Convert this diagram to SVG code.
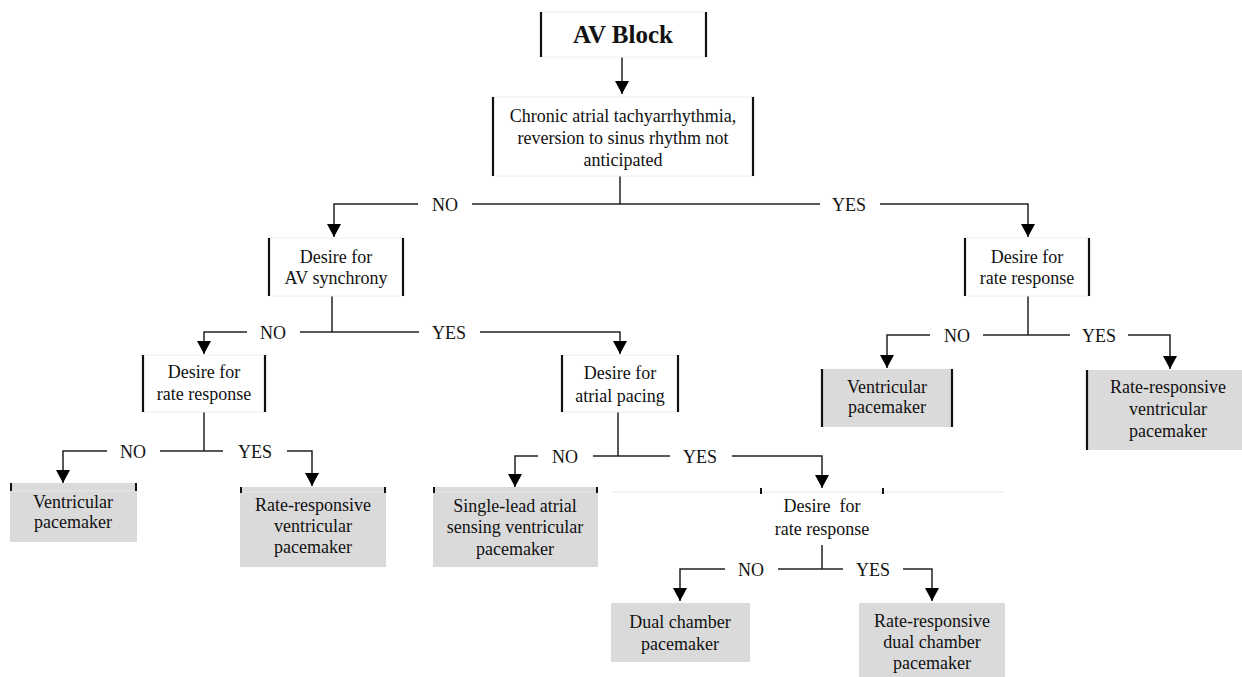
<svg xmlns="http://www.w3.org/2000/svg" width="1242" height="677" viewBox="0 0 1242 677">
<defs>
<style>
text{font-family:"Liberation Serif","Times New Roman",serif;font-size:18px;fill:#111;text-anchor:middle}
.title{font-weight:bold;font-size:25px}
.wbox{fill:#fff;stroke:#eee;stroke-width:1}
.gbox{fill:#dadada;stroke:none}
.bar{stroke:#111;stroke-width:2.2}
.tick{stroke:#111;stroke-width:2}
.faint{stroke:#e6e6e6;stroke-width:1}
.c{fill:none;stroke:#222;stroke-width:1.5}
.a{fill:none;stroke:#222;stroke-width:1.5;marker-end:url(#ah)}
</style>
<marker id="ah" viewBox="0 0 13 14" refX="13" refY="7" markerWidth="13" markerHeight="14" markerUnits="userSpaceOnUse" orient="auto">
<path d="M0,0 L13,7 L0,14 z" fill="#000"/>
</marker>
</defs>

<g id="connectors">
<line class="a" x1="622" y1="57" x2="622" y2="94"/>
<!-- level 1 -->
<line class="c" x1="620" y1="176" x2="620" y2="204"/>
<polyline class="a" points="418,204 334,204 334,237"/>
<line class="c" x1="472" y1="204" x2="820" y2="204"/>
<polyline class="a" points="880,204 1028,204 1028,237"/>
<text x="445" y="211">NO</text>
<text x="849" y="211">YES</text>
<!-- AV synchrony -->
<line class="c" x1="332" y1="296" x2="332" y2="332"/>
<polyline class="a" points="247,332 204,332 204,354"/>
<line class="c" x1="300" y1="332" x2="419" y2="332"/>
<polyline class="a" points="480,332 620,332 620,354"/>
<text x="273" y="339">NO</text>
<text x="449" y="339">YES</text>
<!-- left rate response -->
<line class="c" x1="204" y1="412" x2="204" y2="451"/>
<polyline class="a" points="107,451 63,451 63,483"/>
<line class="c" x1="160" y1="451" x2="223" y2="451"/>
<polyline class="a" points="287,451 312,451 312,486"/>
<text x="133" y="458">NO</text>
<text x="255" y="458">YES</text>
<!-- atrial pacing -->
<line class="c" x1="618" y1="412" x2="618" y2="456"/>
<polyline class="a" points="538,456 515,456 515,487"/>
<line class="c" x1="593" y1="456" x2="670" y2="456"/>
<polyline class="a" points="732,456 822,456 822,488"/>
<text x="565" y="463">NO</text>
<text x="700" y="463">YES</text>
<!-- center rate response -->
<line class="c" x1="822" y1="545" x2="822" y2="569"/>
<polyline class="a" points="725,569 680,569 680,601"/>
<line class="c" x1="778" y1="569" x2="843" y2="569"/>
<polyline class="a" points="903,569 932,569 932,601"/>
<text x="751" y="576">NO</text>
<text x="873" y="576">YES</text>
<!-- right rate response -->
<line class="c" x1="1028" y1="296" x2="1028" y2="335"/>
<polyline class="a" points="930,335 887,335 887,368"/>
<line class="c" x1="983" y1="335" x2="1070" y2="335"/>
<polyline class="a" points="1128,335 1170,335 1170,369"/>
<text x="957" y="342">NO</text>
<text x="1099" y="342">YES</text>
</g>

<g id="av-block">
<rect class="wbox" x="541" y="12" width="165" height="45"/>
<line class="bar" x1="541" y1="12" x2="541" y2="57"/>
<line class="bar" x1="706" y1="12" x2="706" y2="57"/>
<text class="title" x="623" y="43">AV Block</text>
</g>

<g id="chronic">
<rect class="wbox" x="493" y="97" width="260" height="79"/>
<line class="bar" x1="493" y1="97" x2="493" y2="176"/>
<line class="bar" x1="753" y1="97" x2="753" y2="176"/>
<text x="623" y="122">Chronic atrial tachyarrhythmia,</text>
<text x="623" y="144">reversion to sinus rhythm not</text>
<text x="623" y="166">anticipated</text>
</g>

<g id="av-synchrony">
<rect class="wbox" x="269" y="238" width="134" height="58"/>
<line class="bar" x1="269" y1="238" x2="269" y2="296"/>
<line class="bar" x1="403" y1="238" x2="403" y2="296"/>
<text x="336" y="263">Desire for</text>
<text x="336" y="284">AV synchrony</text>
</g>

<g id="rate-left">
<rect class="wbox" x="143" y="355" width="122" height="57"/>
<line class="bar" x1="143" y1="355" x2="143" y2="412"/>
<line class="bar" x1="265" y1="355" x2="265" y2="412"/>
<text x="204" y="378">Desire for</text>
<text x="204" y="400">rate response</text>
</g>

<g id="vent-left">
<rect class="gbox" x="10" y="483" width="127" height="59"/>
<line class="faint" x1="11" y1="491" x2="136" y2="491"/>
<line class="tick" x1="11" y1="483" x2="11" y2="491"/>
<line class="tick" x1="136" y1="483" x2="136" y2="491"/>
<text x="73" y="508">Ventricular</text>
<text x="73" y="528">pacemaker</text>
</g>

<g id="rr-vent-left">
<rect class="gbox" x="240" y="487" width="146" height="80"/>
<line class="faint" x1="241" y1="492" x2="385" y2="492"/>
<line class="tick" x1="241" y1="487" x2="241" y2="493"/>
<line class="tick" x1="385" y1="487" x2="385" y2="493"/>
<text x="313" y="511">Rate-responsive</text>
<text x="313" y="532">ventricular</text>
<text x="313" y="553">pacemaker</text>
</g>

<g id="atrial-pacing">
<rect class="wbox" x="562" y="355" width="116" height="57"/>
<line class="bar" x1="562" y1="355" x2="562" y2="412"/>
<line class="bar" x1="678" y1="355" x2="678" y2="412"/>
<text x="620" y="379">Desire for</text>
<text x="620" y="402">atrial pacing</text>
</g>

<g id="single-lead">
<rect class="gbox" x="433" y="487" width="165" height="80"/>
<line class="faint" x1="434" y1="492" x2="597" y2="492"/>
<line class="tick" x1="434" y1="487" x2="434" y2="493"/>
<line class="tick" x1="597" y1="487" x2="597" y2="493"/>
<text x="515" y="512">Single-lead atrial</text>
<text x="515" y="533">sensing ventricular</text>
<text x="515" y="555">pacemaker</text>
</g>

<g id="rate-center">
<line class="faint" x1="612" y1="492" x2="1004" y2="492"/>
<line class="tick" x1="761" y1="488" x2="761" y2="494"/>
<line class="tick" x1="883" y1="488" x2="883" y2="494"/>
<text x="822" y="512" xml:space="preserve">Desire  for</text>
<text x="822" y="535">rate response</text>
</g>

<g id="dual">
<rect class="gbox" x="611" y="603" width="139" height="59"/>
<text x="680" y="628">Dual chamber</text>
<text x="680" y="650">pacemaker</text>
</g>

<g id="rr-dual">
<rect class="gbox" x="859" y="603" width="146" height="74"/>
<text x="932" y="627">Rate-responsive</text>
<text x="932" y="648">dual chamber</text>
<text x="932" y="669">pacemaker</text>
</g>

<g id="rate-right">
<rect class="wbox" x="965" y="238" width="124" height="58"/>
<line class="bar" x1="965" y1="238" x2="965" y2="296"/>
<line class="bar" x1="1089" y1="238" x2="1089" y2="296"/>
<text x="1027" y="263">Desire for</text>
<text x="1027" y="284">rate response</text>
</g>

<g id="vent-right">
<rect class="gbox" x="822" y="369" width="130" height="58"/>
<line class="bar" x1="822" y1="369" x2="822" y2="427"/>
<line class="bar" x1="952" y1="369" x2="952" y2="427"/>
<text x="887" y="393">Ventricular</text>
<text x="887" y="413">pacemaker</text>
</g>

<g id="rr-vent-right">
<rect class="gbox" x="1087" y="370" width="155" height="80"/>
<line class="bar" x1="1087" y1="370" x2="1087" y2="450"/>
<text x="1168" y="393">Rate-responsive</text>
<text x="1168" y="415">ventricular</text>
<text x="1168" y="437">pacemaker</text>
</g>
</svg>
